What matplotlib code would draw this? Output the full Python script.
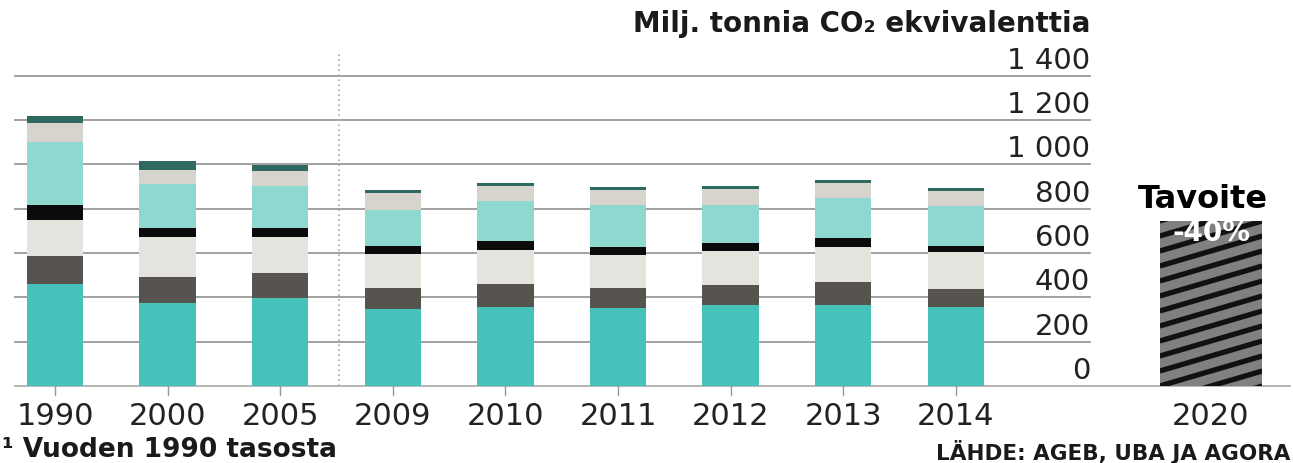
import numpy as np
import matplotlib
matplotlib.use('Agg')
import matplotlib.pyplot as plt

plt.rcParams['font.family'] = ['DejaVu Sans']

# data (milj. tonnia CO2 ekv.)
vuodet = ['1990', '2000', '2005', '2009', '2010', '2011', '2012', '2013', '2014']
kerros1 = [460, 374, 396, 347, 358, 350, 365, 367, 358]   # teal
kerros2 = [125, 116, 112, 95, 102, 92, 92, 103, 79]       # dark gray
kerros3 = [165, 181, 163, 152, 153, 150, 150, 156, 166]   # light gray
kerros4 = [66, 40, 40, 36, 42, 34, 38, 40, 30]            # black
kerros5 = [286, 200, 190, 165, 181, 192, 171, 181, 180]   # light teal
kerros6 = [84, 65, 70, 74, 65, 66, 73, 69, 68]            # beige
kerros7 = [33, 37, 27, 15, 15, 15, 14, 13, 12]            # dark teal
tavoite_vuosi = '2020'
tavoite_arvo = 745
yticks = [0, 200, 400, 600, 800, 1000, 1200, 1400]

varit = ['#47c2bb', '#57544f', '#e4e3dd', '#0b0b0b', '#8fd8cf', '#d7d4cd', '#2f6a62']
kerrokset = [kerros1, kerros2, kerros3, kerros4, kerros5, kerros6, kerros7]

# layout: one axes over the whole figure, pixel-like scale
W, H = 1293, 464
x0_px, step_px = 55, 112.6
base_px, scale = 387, 0.2217   # px per unit

fig = plt.figure(figsize=(W / 100, H / 100), dpi=100)
ax = fig.add_axes([0, 0, 1, 1])
ax.set_xlim(-x0_px / step_px, (W - x0_px) / step_px)
ax.set_ylim(-(H - base_px) / scale, base_px / scale)
ax.axis('off')

def px2x(px):
    return (px - x0_px) / step_px

def py2y(py):
    return (base_px - py) / scale

x = np.arange(len(vuodet))
x_2020 = px2x(1211)

# grid lines
grid_end = px2x(1090)
for t in yticks[1:]:
    ax.plot([px2x(15), grid_end], [t, t], color='#9a9a9a', lw=1.3, zorder=1)
ax.plot([px2x(15), px2x(1290)], [0, 0], color='#b0b0b0', lw=1.3, zorder=1)

# dotted separator
ax.plot([px2x(339), px2x(339)], [0, py2y(53)], color='#aaaaaa', lw=1.2,
        linestyle=(0, (1, 2)), zorder=1)

# stacked bars
pohja = np.zeros(len(vuodet))
for arvot, vari in zip(kerrokset, varit):
    ax.bar(x, arvot, width=0.5, bottom=pohja, color=vari, zorder=3)
    pohja += np.array(arvot)

# target bar with shallow diagonal stripes
tb = ax.bar([x_2020], [tavoite_arvo], width=0.91, color='#808080',
            linewidth=0, zorder=3)[0]
vasen, oikea = tb.get_x(), tb.get_x() + tb.get_width()
nousu = 30 / scale        # stripe rise across the bar
vali = 15 / scale         # vertical spacing of stripes
for y0 in np.arange(-nousu, tavoite_arvo + vali, vali):
    ln, = ax.plot([vasen, oikea], [y0, y0 + nousu], color='#111111',
                  lw=3.8, zorder=3.5, solid_capstyle='butt')
    ln.set_clip_path(tb)

ax.text(x_2020, py2y(233), '-40%', color='white', fontsize=20,
        fontweight='bold', ha='center', va='center', zorder=4)
ax.text(px2x(1203), py2y(200), 'Tavoite', color='black', fontsize=23,
        fontweight='bold', ha='center', va='center')

# x ticks and labels
for xi, lab in zip(x, vuodet):
    ax.plot([xi, xi], [0, py2y(396)], color='#999999', lw=1, zorder=2)
    ax.text(xi, py2y(417), lab, fontsize=22, ha='center', va='center',
            color='#222222')
ax.text(x_2020, py2y(417), tavoite_vuosi, fontsize=22, ha='center',
        va='center', color='#222222')

# y tick labels sit on top of the grid lines
for t in yticks:
    lab = '{:,}'.format(t).replace(',', ' ')
    ax.text(grid_end, t + 36, lab, fontsize=21, ha='right', va='baseline',
            color='#222222')

ax.text(grid_end, py2y(24), 'Milj. tonnia CO\u2082 ekvivalenttia', fontsize=20,
        fontweight='bold', ha='right', va='center', color='#1a1a1a')
ax.text(px2x(2), py2y(450), '\u00b9 Vuoden 1990 tasosta', fontsize=19,
        fontweight='bold', ha='left', va='center', color='#1a1a1a')
ax.text(px2x(1290), py2y(452), 'LÄHDE: AGEB, UBA JA AGORA', fontsize=15.5,
        fontweight='bold', ha='right', va='center', color='#1a1a1a')

fig.savefig('out.png', dpi=100)
